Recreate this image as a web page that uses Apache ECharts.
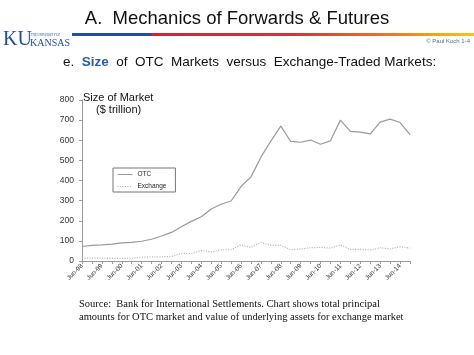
<!DOCTYPE html>
<html>
<head>
<meta charset="utf-8">
<script src="https://cdn.jsdelivr.net/npm/echarts@6/dist/echarts.min.js"></script>
<style>
html,body{margin:0;padding:0;background:#fff;}
#c{width:474px;height:355px;}
</style>
</head>
<body>
<div id="c"></div>
<script>
var categories = ['Jun-98','Dec-98','Jun-99','Dec-99','Jun-00','Dec-00','Jun-01','Dec-01','Jun-02','Dec-02',
  'Jun-03','Dec-03','Jun-04','Dec-04','Jun-05','Dec-05','Jun-06','Dec-06','Jun-07','Dec-07',
  'Jun-08','Dec-08','Jun-09','Dec-09','Jun-10','Dec-10','Jun-11','Dec-11','Jun-12','Dec-12',
  'Jun-13','Dec-13','Jun-14','Dec-14'];
var otcValues = [72,78,80,84,90,93,98,108,124,142,
  170,197,220,258,282,298,370,418,516,596,
  670,594,590,601,580,597,700,644,640,632,
  690,705,688,628];
var exchangeValues = [14,14,14,13,13,13,19,20,21,22,
  38,37,52,45,56,56,80,68,92,78,
  78,56,60,66,68,64,80,58,58,54,
  66,60,71,64];
var yTicks = [0,100,200,300,400,500,600,700,800];

var chart = echarts.init(document.getElementById('c'), null, {renderer:'canvas'});
var sans = 'Liberation Sans, Arial, sans-serif';
var serif = 'Liberation Serif, Times New Roman, serif';
chart.setOption({
  backgroundColor:'#fff',
  animation:false,
  textStyle:{fontFamily:sans},
  grid:{left:82, top:100, width:328, height:161, containLabel:false},
  legend:{
    orient:'vertical', left:113, top:168,
    backgroundColor:'#fff', borderColor:'#777', borderWidth:1,
    padding:[3,9,2,4], itemGap:5, itemWidth:15, itemHeight:7,
    itemStyle:{opacity:0},
    lineStyle:{width:1},
    textStyle:{fontSize:6.5, color:'#222', fontFamily:sans},
    data:['OTC','Exchange']
  },
  xAxis:{
    type:'category', data:categories, boundaryGap:false,
    axisLine:{lineStyle:{color:'#999', width:1}},
    axisTick:{show:true, interval:0, length:3, lineStyle:{color:'#999'}},
    axisLabel:{interval:function(i){return i % 2 === 0;}, rotate:45, fontSize:6.5, color:'#333', margin:4, fontFamily:sans},
    splitLine:{show:false}
  },
  yAxis:{
    type:'value', min:yTicks[0], max:yTicks[yTicks.length-1], interval:100,
    axisLine:{show:true, lineStyle:{color:'#999', width:1}},
    axisTick:{show:true, length:3, lineStyle:{color:'#999'}},
    axisLabel:{fontSize:8.5, color:'#333', margin:8, fontFamily:sans},
    splitLine:{show:false}
  },
  series:[
    {name:'OTC', type:'line', data:otcValues, symbol:'none',
     lineStyle:{color:'#9a9a9a', width:1.2, type:'solid'}, itemStyle:{color:'#9a9a9a'}},
    {name:'Exchange', type:'line', data:exchangeValues, symbol:'none',
     lineStyle:{color:'#b0b0b0', width:1.2, type:[1,1.5]}, itemStyle:{color:'#b0b0b0'}}
  ],
  graphic:[
    {type:'text', left:'center', top:9, style:{text:'A.  Mechanics of Forwards & Futures', font:'18.5px '+sans, fill:'#111'}},
    {type:'rect', shape:{x:72, y:33, width:402, height:3}, style:{fill:{
      type:'linear', x:0, y:0, x2:1, y2:0, colorStops:[
        {offset:0, color:'#1f4ea3'},{offset:0.195, color:'#1f4ea3'},{offset:0.2, color:'#d4213c'},
        {offset:0.55, color:'#d8303a'},{offset:0.8, color:'#ea7a2e'},{offset:1, color:'#f2c81c'}]}}},
    {type:'text', left:3, top:30, style:{text:'KU', font:'20px '+serif, fill:'#1d4f9c'}},
    {type:'text', left:31, top:34, style:{text:'THE UNIVERSITY OF', font:'3px '+serif, fill:'#1d4f9c'}},
    {type:'text', left:30, top:38, style:{text:'KANSAS', font:'10px '+serif, fill:'#1d4f9c'}},
    {type:'text', right:4, top:38, style:{text:'\u00a9 Paul Koch 1-4', font:'6px '+sans, fill:'#5a6f90'}},
    {type:'text', left:63, top:55, style:{
      text:'e.  {b|Size}  of  OTC  Markets  versus  Exchange-Traded Markets:',
      font:'13.5px '+sans, fill:'#111',
      rich:{b:{fontWeight:'bold', fill:'#2a5ca8', fontSize:13.5, fontFamily:sans}}}},
    {type:'text', left:83, top:92, style:{text:'Size of Market', font:'11px '+sans, fill:'#111'}},
    {type:'text', left:96, top:104, style:{text:'($ trillion)', font:'11px '+sans, fill:'#111'}},
    {type:'text', left:79, top:298, style:{
      text:'Source:  Bank for International Settlements. Chart shows total principal\namounts for OTC market and value of underlying assets for exchange market',
      font:'10.5px '+serif, fill:'#111', lineHeight:13}}
  ]
});
</script>
</body>
</html>
